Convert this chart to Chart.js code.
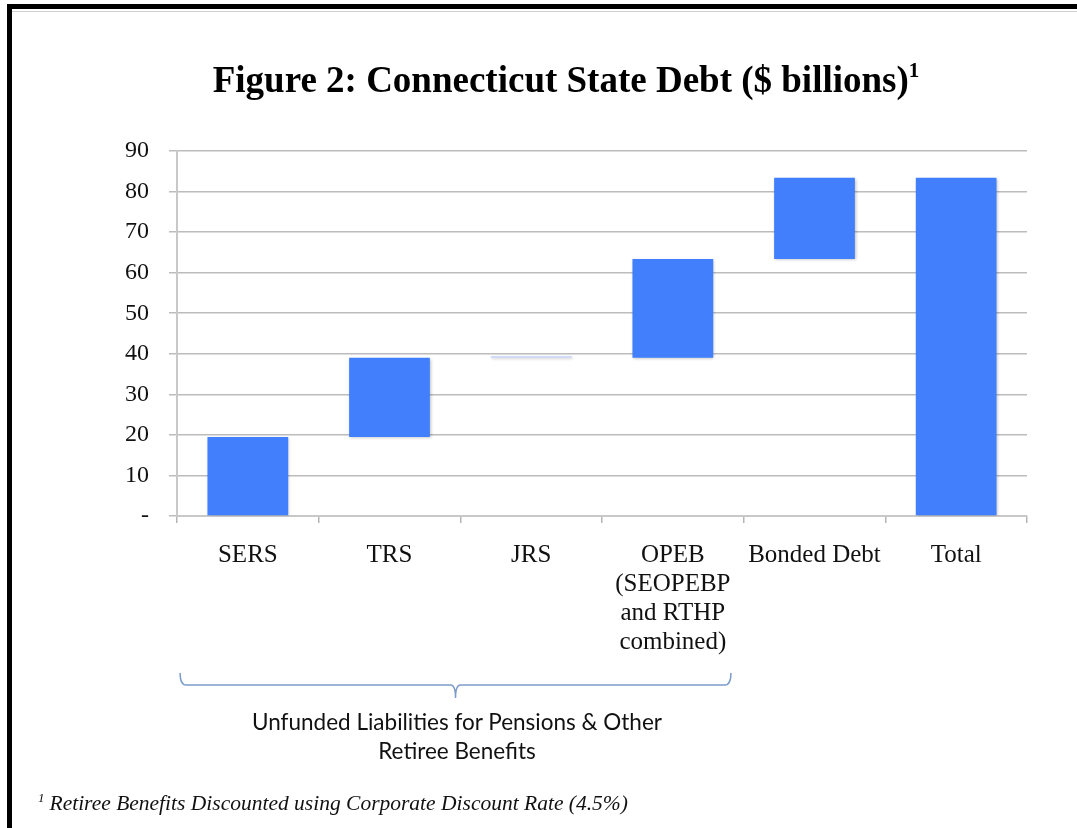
<!DOCTYPE html>
<html>
<head>
<meta charset="utf-8">
<script src="https://cdn.jsdelivr.net/npm/chart.js@4/dist/chart.umd.min.js"></script>
<style>
  body { margin: 0; background: #fff; }
  #wrap { position: relative; width: 1077px; height: 828px; overflow: hidden; }
  #chart { position: absolute; left: 0; top: 0; }
  .frameTop { position: absolute; left: 7px; top: 4px; width: 1070px; height: 5px; background: #000; }
  .frameLeft { position: absolute; left: 7px; top: 4px; width: 5px; height: 824px; background: #000; }
  .frameGray { position: absolute; left: 12px; top: 11px; width: 1065px; height: 1px; background: #d0d0d0; }
  #title { position: absolute; left: 0; top: 58px; width: 1132px; text-align: center;
    font: bold 37px "Liberation Serif", "Times New Roman", serif; color: #000; }
  #title sup { font-size: 21px; position: relative; top: -2px; }
  #brace { position: absolute; left: 157px; top: 707px; width: 600px; text-align: center;
    font: 22.5px Lato, "Open Sans", sans-serif; line-height: 29px; color: #111; }
  #note { position: absolute; left: 38px; top: 790px;
    font: italic 21.5px "Liberation Serif", "Times New Roman", serif; color: #111; }
  #note sup { font-size: 13px; margin-right: 5px; }
</style>
</head>
<body>
<div id="wrap">
  <canvas id="chart" width="1077" height="828"></canvas>
  <div class="frameTop"></div>
  <div class="frameLeft"></div>
  <div class="frameGray"></div>
  <div id="title">Figure 2: Connecticut State Debt ($ billions)<sup>1</sup></div>
  <div id="brace">Unfunded Liabilities for Pensions &amp; Other<br>Retiree Benefits</div>
  <div id="note"><sup>1</sup>Retiree Benefits Discounted using Corporate Discount Rate (4.5%)</div>
</div>
<script>
// categories and floating bar ranges (billions)
const categories = [
  "SERS",
  "TRS",
  "JRS",
  ["OPEB", "(SEOPEBP", "and RTHP", "combined)"],
  "Bonded Debt",
  "Total"
];
const barStart = [0, 19.5, 39.0, 39.0, 63.4, 0];
const barEnd = [19.5, 39.0, 39.4, 63.4, 83.4, 83.4];
const yTicks = [0, 10, 20, 30, 40, 50, 60, 70, 80, 90];

const ranges = barStart.map(function (s, i) { return [s, barEnd[i]]; });

const barColors = ["#417ffd", "#417ffd", "#c7d4fb", "#417ffd", "#417ffd", "#417ffd"];
const serif = "'Liberation Serif', 'Times New Roman', serif";

// soft shadow under the bars, like the original
const shadowPlugin = {
  id: "barShadow",
  beforeDatasetsDraw(chart) {
    const ctx = chart.ctx;
    ctx.save();
    ctx.shadowColor = "rgba(0,0,0,0.25)";
    ctx.shadowBlur = 3;
    ctx.shadowOffsetX = 1;
    ctx.shadowOffsetY = 1;
  },
  afterDatasetsDraw(chart) {
    chart.ctx.restore();
  }
};

// bracket under the first four categories
const bracePlugin = {
  id: "brace",
  afterDraw(chart) {
    const x = chart.scales.x;
    const cw = x.getPixelForValue(1) - x.getPixelForValue(0);
    const left = x.getPixelForValue(0) - cw * 0.478;
    const right = x.getPixelForValue(3) + cw * 0.41;
    const mid = (left + right) / 2;
    const top = 673, line = 685, tip = 698;
    const ctx = chart.ctx;
    ctx.save();
    ctx.strokeStyle = "#7c9ccb";
    ctx.lineWidth = 1.5;
    ctx.beginPath();
    ctx.moveTo(left, top);
    ctx.quadraticCurveTo(left, line, left + 6, line);
    ctx.lineTo(mid - 5, line);
    ctx.quadraticCurveTo(mid, line, mid, tip);
    ctx.quadraticCurveTo(mid, line, mid + 5, line);
    ctx.lineTo(right - 6, line);
    ctx.quadraticCurveTo(right, line, right, top);
    ctx.stroke();
    ctx.restore();
  }
};

new Chart(document.getElementById("chart"), {
  type: "bar",
  data: {
    labels: categories,
    datasets: [{
      label: "Debt",
      data: ranges,
      backgroundColor: barColors,
      borderWidth: 0,
      categoryPercentage: 1,
      barPercentage: 0.57
    }]
  },
  options: {
    responsive: false,
    animation: false,
    layout: { padding: { left: 100, right: 50, top: 151, bottom: 172 } },
    plugins: { legend: { display: false }, tooltip: { enabled: false } },
    scales: {
      x: {
        grid: { offset: true, drawOnChartArea: false, tickLength: 7, color: "#b5b5b5", lineWidth: 1.5 },
        border: { color: "#c8c8c8", width: 2 },
        ticks: { color: "#111", padding: 18, maxRotation: 0, autoSkip: false,
          font: { family: serif, size: 25, lineHeight: 1.16 } },
        afterFit(s) { s.height = 140; }
      },
      y: {
        min: 0,
        max: 90,
        afterBuildTicks(s) { s.ticks = yTicks.map(function (v) { return { value: v }; }); },
        grid: { color: "#bcbcbc", lineWidth: 1.5, tickLength: 8 },
        border: { color: "#c8c8c8", width: 2 },
        ticks: { color: "#111", padding: 20,
          font: { family: serif, size: 24 },
          callback(v) { return v === 0 ? "-" : v; } },
        afterFit(s) { s.width = 77; }
      }
    }
  },
  plugins: [shadowPlugin, bracePlugin]
});
</script>
</body>
</html>
